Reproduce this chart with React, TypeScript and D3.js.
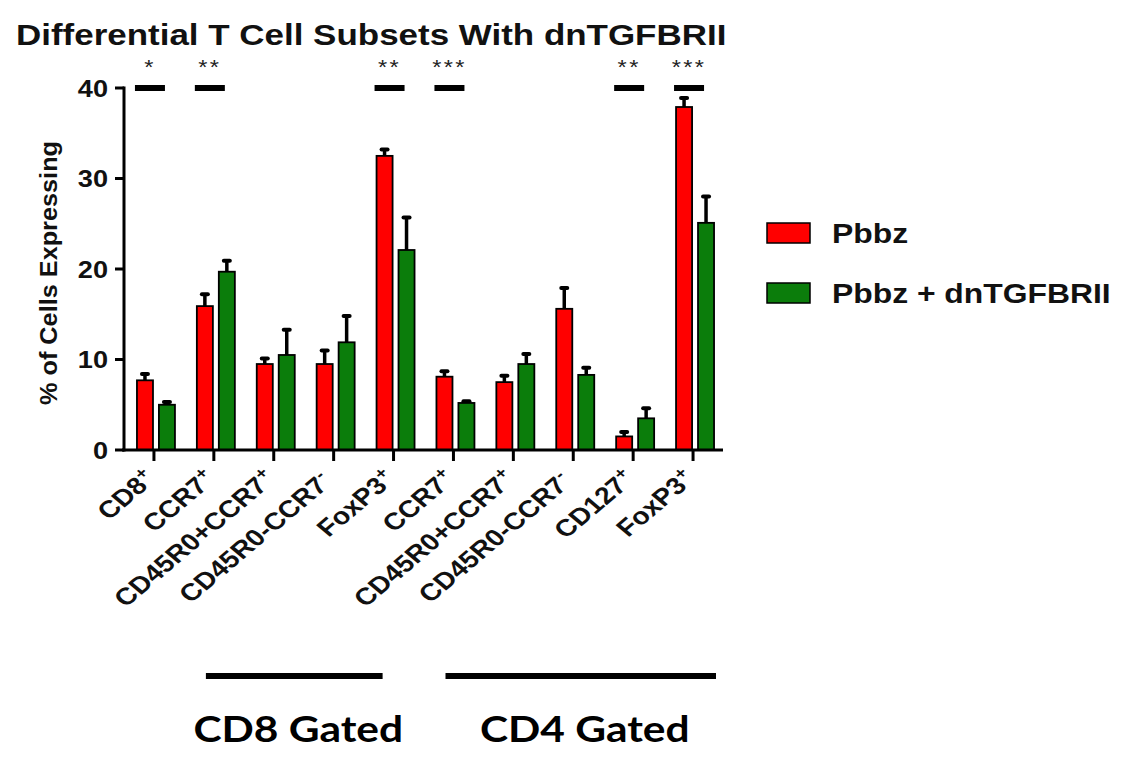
import { useEffect, useRef } from 'react';
import * as d3 from 'd3';

// values (mean and error bar height, % of cells)
const categories = ['CD8+', 'CCR7+', 'CD45R0+CCR7+', 'CD45R0-CCR7-', 'FoxP3+', 'CCR7+', 'CD45R0+CCR7+', 'CD45R0-CCR7-', 'CD127+', 'FoxP3+'];
const seriesNames = ['Pbbz', 'Pbbz + dnTGFBRII'];
const pbbzMean = [7.7, 15.9, 9.5, 9.5, 32.5, 8.1, 7.5, 15.6, 1.5, 37.9];
const pbbzErr = [0.7, 1.3, 0.6, 1.5, 0.7, 0.6, 0.7, 2.3, 0.5, 1.0];
const dnMean = [5.0, 19.7, 10.5, 11.9, 22.1, 5.2, 9.5, 8.3, 3.5, 25.1];
const dnErr = [0.3, 1.2, 2.8, 2.9, 3.6, 0.2, 1.1, 0.8, 1.1, 2.9];
const yTicks = [0, 10, 20, 30, 40];
const sigIndex = [0, 1, 4, 5, 8, 9];
const sigStars = ['*', '**', '**', '***', '**', '***'];
const gateLabels = ['CD8 Gated', 'CD4 Gated'];
const gateFirst = [1, 5];
const gateLast = [3, 9];

const COLORS = ['#ff0000', '#0b7d0b'];
const SX = 1.18; // the figure is stretched horizontally
const FONT = "'Liberation Sans', Arial, sans-serif";

export default function App() {
  const svgRef = useRef<SVGSVGElement>(null);

  useEffect(() => {
    if (!svgRef.current) return;
    const svg = d3.select(svgRef.current);
    svg.selectAll('*').remove();

    const keys = categories.map((c, i) => `${i}-${c}`);
    const x = d3.scaleBand().domain(keys).range([124, 723]).padding(0);
    const xSub = d3.scaleBand().domain(seriesNames).range([-17, 21]).paddingInner(0.27);
    const y = d3.scaleLinear().domain([0, 40]).range([450, 88]);
    const cx = (i: number) => x(keys[i])! + x.bandwidth() / 2;

    const means = [pbbzMean, dnMean];
    const errs = [pbbzErr, dnErr];

    // title
    svg.append('text')
      .attr('transform', `translate(16,45) scale(${SX},1)`)
      .attr('font-family', FONT)
      .attr('font-weight', 'bold')
      .attr('font-size', 30)
      .attr('textLength', 602)
      .attr('lengthAdjust', 'spacingAndGlyphs')
      .attr('fill', '#111')
      .text('Differential T Cell Subsets With dnTGFBRII');

    // bars + error bars
    seriesNames.forEach((s, si) => {
      const g = svg.append('g');
      const rows = categories.map((_, i) => ({ i, v: means[si][i], e: errs[si][i] }));
      const mid = (d: { i: number }) => cx(d.i) + xSub(s)! + xSub.bandwidth() / 2;

      g.selectAll('line.err')
        .data(rows)
        .enter()
        .append('line')
        .attr('x1', mid)
        .attr('x2', mid)
        .attr('y1', d => y(d.v))
        .attr('y2', d => y(d.v + d.e))
        .attr('stroke', '#000')
        .attr('stroke-width', 3.5);

      g.selectAll('line.cap')
        .data(rows)
        .enter()
        .append('line')
        .attr('x1', d => mid(d) - 3)
        .attr('x2', d => mid(d) + 3)
        .attr('y1', d => y(d.v + d.e))
        .attr('y2', d => y(d.v + d.e))
        .attr('stroke', '#000')
        .attr('stroke-width', 4)
        .attr('stroke-linecap', 'round');

      g.selectAll('rect')
        .data(rows)
        .enter()
        .append('rect')
        .attr('x', d => cx(d.i) + xSub(s)!)
        .attr('y', d => y(d.v))
        .attr('width', xSub.bandwidth())
        .attr('height', d => y(0) - y(d.v))
        .attr('fill', COLORS[si])
        .attr('stroke', '#000')
        .attr('stroke-width', 1.8);
    });

    // y axis
    svg.append('line')
      .attr('x1', 124).attr('x2', 124)
      .attr('y1', y(40) - 1.5).attr('y2', y(0) + 1.5)
      .attr('stroke', '#000').attr('stroke-width', 3);
    svg.append('g')
      .selectAll('line')
      .data(yTicks)
      .enter()
      .append('line')
      .attr('x1', 115).attr('x2', 124)
      .attr('y1', d => y(d)).attr('y2', d => y(d))
      .attr('stroke', '#000').attr('stroke-width', 3);
    svg.append('g')
      .selectAll('text')
      .data(yTicks)
      .enter()
      .append('text')
      .attr('transform', d => `translate(108,${y(d) + 8.5}) scale(${SX},1)`)
      .attr('text-anchor', 'end')
      .attr('font-family', FONT)
      .attr('font-weight', 'bold')
      .attr('font-size', 23)
      .attr('fill', '#111')
      .text(d => d);

    svg.append('text')
      .attr('transform', `translate(57,273) scale(${SX},1) rotate(-90)`)
      .attr('text-anchor', 'middle')
      .attr('font-family', FONT)
      .attr('font-weight', 'bold')
      .attr('font-size', 21)
      .attr('textLength', 264)
      .attr('lengthAdjust', 'spacingAndGlyphs')
      .attr('fill', '#111')
      .text('% of Cells Expressing');

    // x axis
    svg.append('line')
      .attr('x1', 122).attr('x2', 723)
      .attr('y1', y(0)).attr('y2', y(0))
      .attr('stroke', '#000').attr('stroke-width', 3);
    svg.append('g')
      .selectAll('line')
      .data(keys)
      .enter()
      .append('line')
      .attr('x1', (_, i) => cx(i)).attr('x2', (_, i) => cx(i))
      .attr('y1', y(0)).attr('y2', y(0) + 11)
      .attr('stroke', '#000').attr('stroke-width', 3);

    // rotated category labels; the trailing sign is a raised, smaller glyph
    const xl = svg.append('g')
      .selectAll('g')
      .data(categories)
      .enter()
      .append('g')
      .attr('transform', (_, i) => `translate(${cx(i) - 5},${y(0) + 37}) scale(${SX},1) rotate(-45)`);
    xl.append('text')
      .attr('text-anchor', 'end')
      .attr('font-family', FONT)
      .attr('font-weight', 'bold')
      .attr('font-size', 24)
      .attr('fill', '#111')
      .text(d => d.slice(0, -1));
    xl.append('text')
      .attr('x', 0.5)
      .attr('y', -9)
      .attr('text-anchor', 'start')
      .attr('font-family', FONT)
      .attr('font-weight', 'bold')
      .attr('font-size', 16)
      .attr('fill', '#111')
      .text(d => d.slice(-1));

    // significance marks
    const sig = svg.append('g');
    sig.selectAll('rect')
      .data(sigIndex)
      .enter()
      .append('rect')
      .attr('x', d => cx(d) - 4 - 15)
      .attr('y', y(40) - 3)
      .attr('width', 30)
      .attr('height', 6)
      .attr('fill', '#000');
    sig.selectAll('text')
      .data(sigIndex)
      .enter()
      .append('text')
      .attr('transform', d => `translate(${cx(d) - 4},${y(40) - 14}) scale(${SX},1)`)
      .attr('text-anchor', 'middle')
      .attr('font-family', FONT)
      .attr('font-size', 20)
      .attr('letter-spacing', 2)
      .attr('fill', '#222')
      .text((_, i) => sigStars[i]);

    // legend
    const legend = svg.append('g');
    seriesNames.forEach((s, si) => {
      const ly = 223 + si * 60;
      legend.append('rect')
        .attr('x', 767).attr('y', ly)
        .attr('width', 43).attr('height', 20)
        .attr('fill', COLORS[si])
        .attr('stroke', '#000').attr('stroke-width', 1.5);
      legend.append('text')
        .attr('transform', `translate(832,${ly + 20}) scale(${SX},1)`)
        .attr('font-family', FONT)
        .attr('font-weight', 'bold')
        .attr('font-size', 27)
        .attr('fill', '#111')
        .text(s);
    });

    // gating brackets
    gateLabels.forEach((label, gi) => {
      const x1 = x(keys[gateFirst[gi]])! + 22;
      const x2 = x(keys[gateLast[gi]])! + x.bandwidth() + (gi === 0 ? 19 : -7);
      svg.append('rect')
        .attr('x', x1).attr('y', 673)
        .attr('width', x2 - x1).attr('height', 6)
        .attr('fill', '#000');
      svg.append('text')
        .attr('transform', `translate(${(x1 + x2) / 2 + 4},742) scale(${SX},1)`)
        .attr('text-anchor', 'middle')
        .attr('font-family', "Lato, 'Open Sans', sans-serif")
        .attr('font-weight', 'bold')
        .attr('font-size', 36)
        .attr('fill', '#000')
        .text(label);
    });
  }, []);

  return (
    <div style={{ position: 'fixed', left: 0, top: 0, background: '#fff' }}>
      <svg ref={svgRef} width={1144} height={759} viewBox="0 0 1144 759" />
    </div>
  );
}
